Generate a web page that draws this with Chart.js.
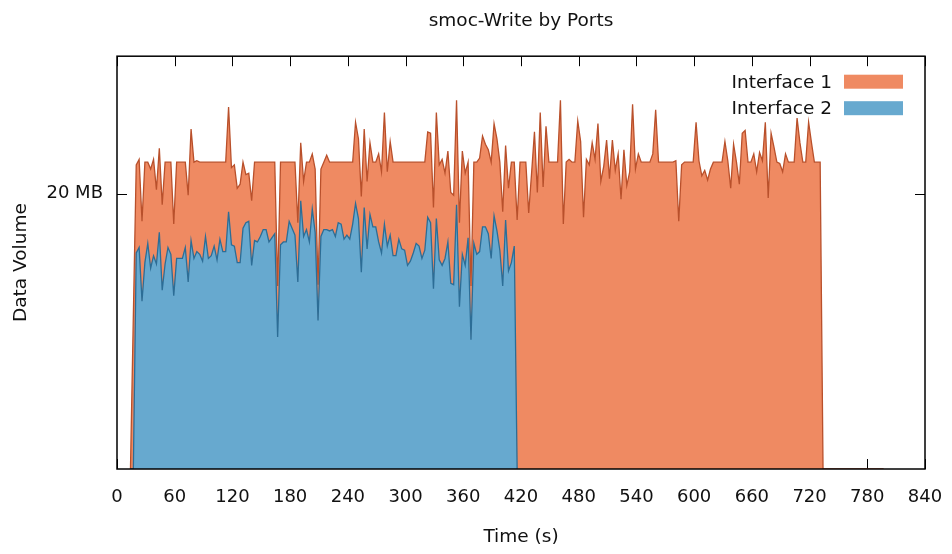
<!DOCTYPE html>
<html><head><meta charset="utf-8">
<script src="https://cdn.jsdelivr.net/npm/chart.js@4.4.0/dist/chart.umd.min.js"></script>
<style>html,body{margin:0;padding:0;background:#fff}#wrap{width:952px;height:554px}</style>
</head><body><div id="wrap"><canvas id="c" width="952" height="554"></canvas></div>
<script>
// Time axis (seconds)
const times = [14,17,20,23,26,29,32,35,38,41,44,47,50,53,56,59,62,65,68,71,74,77,80,83,86,89,92,95,98,101,104,107,110,113,116,119,122,125,128,131,134,137,140,143,146,149,152,155,158,161,164,167,170,173,176,179,182,185,188,191,194,197,200,203,206,209,212,215,218,221,224,227,230,233,236,239,242,245,248,251,254,257,260,263,266,269,272,275,278,281,284,287,290,293,296,299,302,305,308,311,314,317,320,323,326,329,332,335,338,341,344,347,350,353,356,359,362,365,368,371,374,377,380,383,386,389,392,395,398,401,404,407,410,413,416,419,422,425,428,431,434,437,440,443,446,449,452,455,458,461,464,467,470,473,476,479,482,485,488,491,494,497,500,503,506,509,512,515,518,521,524,527,530,533,536,539,542,545,548,551,554,557,560,563,566,569,572,575,578,581,584,587,590,593,596,599,602,605,608,611,614,617,620,623,626,629,632,635,638,641,644,647,650,653,656,659,662,665,668,671,674,677,680,683,686,689,692,695,698,701,704,707,710,713,716,719,722,725,728,731,734,737,740,743,746,749,752,755,758,761,764,767,770,773,776,779,782,785,788,791,794,797];

// Interface 1 (MB)
const interface1 = [0, 11.2,
 22.1,22.5,18.0,22.3,22.3,21.8,22.5,20.3,23.3,19.2,
 22.3,22.3,22.3,17.8,22.3,22.3,22.3,22.3,19.9,24.7,
 22.3,22.4,22.3,22.3,22.3,22.3,22.3,22.3,22.3,22.3,
 22.3,22.3,26.3,21.9,22.1,20.4,20.7,22.3,21.4,21.5,
 19.5,22.3,22.3,22.3,22.3,22.3,22.3,22.3,22.3,13.3,
 22.3,22.3,22.3,22.3,22.3,22.3,17.9,23.7,20.9,22.3,
 22.3,22.9,21.8,13.4,21.8,22.3,22.8,22.3,22.3,22.3,
 22.3,22.3,22.3,22.3,22.3,22.3,25.2,24.0,19.8,24.7,
 20.9,23.7,22.3,22.3,22.9,21.6,25.9,21.6,23.8,22.3,
 22.3,22.3,22.3,22.3,22.3,22.3,22.3,22.3,22.3,22.3,
 22.3,24.5,24.4,19.0,25.9,22.1,22.5,21.5,23.1,20.1,
 19.9,26.8,17.9,23.1,21.5,22.3,13.3,22.3,22.3,22.6,
 24.2,23.6,23.2,22.3,25.1,24.0,22.3,18.7,23.5,20.4,
 22.3,22.3,18.1,22.3,22.3,22.3,18.6,21.5,24.5,20.1,
 25.9,20.5,24.9,22.3,22.3,22.3,22.3,26.8,17.8,22.3,
 22.5,22.3,22.3,25.3,23.8,18.3,22.5,22.1,23.7,22.5,
 25.1,20.9,22.0,23.9,21.1,23.9,21.7,22.9,19.6,23.2,
 20.6,21.6,26.5,21.8,22.9,22.3,22.3,22.3,22.3,22.9,
 26.1,22.3,22.3,22.3,22.3,22.3,22.3,22.4,18.0,22.1,
 22.3,22.3,22.3,22.3,25.2,22.4,21.3,21.7,21.0,21.8,
 22.3,22.3,22.3,22.3,23.8,22.4,20.4,23.6,22.3,20.7,
 24.4,24.6,22.3,22.3,22.9,21.6,23.0,22.4,25.2,19.7,
 24.4,23.4,22.3,22.2,21.6,22.9,22.3,22.3,22.3,25.5,
 23.7,22.3,22.3,25.2,23.7,22.3,22.3,22.3,0,
 0,0,0,0,0,0,0,0,0,0,0,0,0,0,0,0,0,0,0,0,0];

// Interface 2 (MB)
const interface2 = [0, 0,
 15.7,16.1,12.2,15.0,16.4,14.6,15.5,14.9,17.2,13.0,
 14.9,16.1,15.6,12.6,15.3,15.3,15.3,16.1,13.6,16.6,
 15.3,15.8,15.6,15.1,16.9,15.3,15.5,16.2,15.2,16.7,
 15.8,15.8,18.7,16.3,16.2,15.0,15.0,17.5,17.9,18.0,
 14.8,16.6,16.5,16.9,17.4,17.4,16.5,16.8,17.1,9.6,
 16.3,16.5,16.5,18.0,17.5,17.0,13.6,19.5,16.9,17.4,
 16.5,18.9,17.2,10.8,16.9,17.4,17.4,17.3,17.4,16.9,
 17.9,17.8,16.7,17.0,16.7,17.8,19.3,18.2,14.3,19.0,
 16.0,18.5,17.6,17.6,16.5,15.7,17.8,16.2,17.0,15.5,
 15.5,16.7,16.0,15.9,14.8,15.1,15.7,16.4,16.2,15.3,
 15.9,18.3,17.9,13.1,18.2,15.2,14.8,15.3,16.5,13.5,
 13.4,19.2,11.8,15.6,14.8,16.8,9.4,16.4,15.6,15.8,
 17.6,17.6,17.1,15.3,18.4,17.3,15.9,13.3,18.1,14.4,
 15.0,16.2,0];

const seriesNames = ['Interface 1', 'Interface 2'];
const xTicks = [0,60,120,180,240,300,360,420,480,540,600,660,720,780,840];
const yTicks = [20];
const yTickLabels = ['20 MB'];

const FONT = 'DejaVu Sans';
const TXT = '#111';

const insideTicks = {
  id: 'insideTicks',
  afterLayout(chart) {
    // centre the title over the plot area, as in the reference
    const tb = chart.titleBlock, a = chart.chartArea;
    if (tb) { tb.left = a.left; tb.right = a.right; tb.width = a.right - a.left; }
  },
  beforeDatasetsDraw(chart) {
    const {ctx, chartArea: a, scales: {x, y}} = chart;
    ctx.save();
    ctx.strokeStyle = '#000';
    ctx.lineWidth = 1;
    ctx.beginPath();
    xTicks.forEach(v => {
      const px = Math.round(x.getPixelForValue(v)) + 0.5;
      ctx.moveTo(px, a.bottom); ctx.lineTo(px, a.bottom - 10);
      ctx.moveTo(px, a.top); ctx.lineTo(px, a.top + 10);
    });
    yTicks.forEach(v => {
      const py = Math.round(y.getPixelForValue(v)) + 0.5;
      ctx.moveTo(a.left, py); ctx.lineTo(a.left + 10, py);
      ctx.moveTo(a.right, py); ctx.lineTo(a.right - 10, py);
    });
    ctx.stroke();
    ctx.restore();
  }
};

const frameAndLegend = {
  id: 'frameAndLegend',
  afterDatasetsDraw(chart) {
    const {ctx, chartArea: a} = chart;
    ctx.save();
    ctx.strokeStyle = '#000';
    ctx.lineWidth = 1.5;
    ctx.strokeRect(a.left, a.top, a.right - a.left, a.bottom - a.top);
    // legend
    ctx.font = '18.5px "' + FONT + '"';
    ctx.textAlign = 'right';
    ctx.textBaseline = 'middle';
    chart.data.datasets.forEach((ds, i) => {
      const cy = a.top + 25.5 + i * 26.5;
      ctx.fillStyle = TXT;
      ctx.fillText(ds.label, a.right - 93, cy + 1);
      ctx.fillStyle = ds.backgroundColor;
      ctx.fillRect(a.right - 81, cy - 7, 59, 14);
    });
    ctx.restore();
  }
};

new Chart(document.getElementById('c'), {
  type: 'line',
  data: {
    datasets: [
      {
        label: seriesNames[0],
        data: interface1.map((v, i) => ({x: times[i], y: v})),
        borderColor: '#b9502b',
        backgroundColor: '#ef8a62',
        borderWidth: 1.3,
        fill: 'origin',
        pointRadius: 0,
        tension: 0,
        order: 2
      },
      {
        label: seriesNames[1],
        data: interface2.map((v, i) => ({x: times[i], y: v})),
        borderColor: '#2c6d96',
        backgroundColor: '#67a9cf',
        borderWidth: 1.3,
        fill: 'origin',
        pointRadius: 0,
        tension: 0,
        order: 1
      }
    ]
  },
  options: {
    responsive: false,
    animation: false,
    devicePixelRatio: 1,
    layout: {padding: {left: 0, right: 27, top: 0, bottom: 0}},
    plugins: {
      legend: {display: false},
      tooltip: {enabled: false},
      title: {
        display: true,
        text: 'smoc-Write by Ports',
        color: TXT,
        font: {family: FONT, size: 18.5, weight: 'normal'},
        padding: {top: 10, bottom: 24}
      }
    },
    scales: {
      x: {
        type: 'linear',
        min: 0, max: 840,
        afterBuildTicks: s => { s.ticks = xTicks.map(v => ({value: v})); },
        afterFit: s => { s.height = 85; s.paddingLeft = 0; s.paddingRight = 0; },
        grid: {display: false, drawTicks: false},
        border: {display: false},
        ticks: {color: TXT, font: {family: FONT, size: 18}, padding: 18, maxRotation: 0, autoSkip: false},
        title: {display: true, text: 'Time (s)', color: TXT, font: {family: FONT, size: 18.5}, padding: {top: 0, bottom: 6}}
      },
      y: {
        min: 0, max: 30,
        afterBuildTicks: s => { s.ticks = yTicks.map(v => ({value: v})); },
        afterFit: s => { s.width = 117; s.paddingTop = 0; s.paddingBottom = 0; },
        grid: {display: false, drawTicks: false},
        border: {display: false},
        ticks: {color: TXT, font: {family: FONT, size: 18}, padding: 14,
          callback: v => yTickLabels[yTicks.indexOf(v)]},
        title: {display: true, text: 'Data Volume', color: TXT, font: {family: FONT, size: 18.5}, padding: {top: 10, bottom: 0}}
      }
    }
  },
  plugins: [insideTicks, frameAndLegend]
});
</script>
</body></html>
